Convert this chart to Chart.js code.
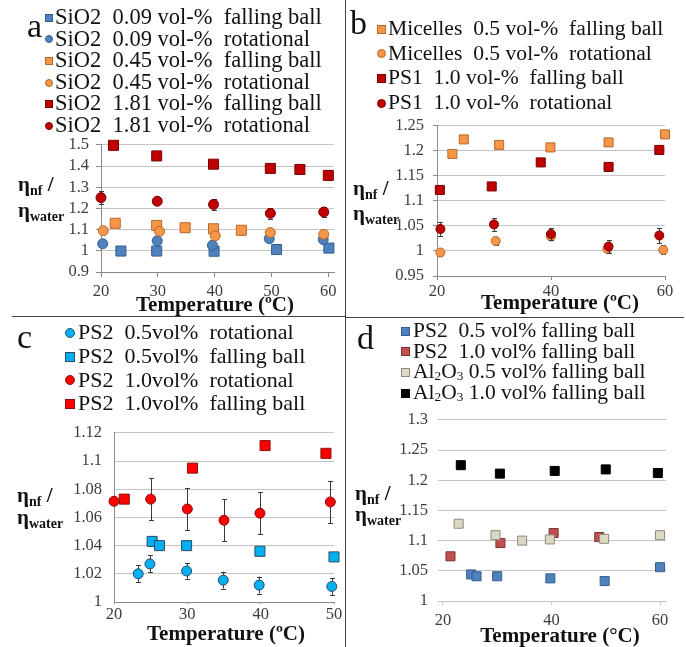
<!DOCTYPE html>
<html>
<head>
<meta charset="utf-8">
<script src="https://cdn.jsdelivr.net/npm/chart.js@4.4.1/dist/chart.umd.min.js"></script>
<style>
body { margin: 0; background: #fff; }
#fig { position: relative; width: 686px; height: 647px; overflow: hidden; background: #fff;
       font-family: "Liberation Serif", "Times New Roman", serif; color: #111; }
#fig canvas { position: absolute; }
.letter { position: absolute; font-size: 34px; line-height: 34px; }
.legend { position: absolute; white-space: pre; }
.legend .row { position: relative; }
.legend sub { font-size: 0.62em; vertical-align: -0.15em; }
.mk { position: absolute; box-sizing: border-box; border: 1px solid; }
.ylab { position: absolute; font-weight: bold; font-size: 21px; line-height: 21px; white-space: pre; }
.ylab sub { font-size: 14px; vertical-align: -4px; }
.xlab { position: absolute; font-weight: bold; font-size: 21px; line-height: 21px; width: 220px; text-align: center; white-space: pre; }
.rule { position: absolute; background: #444; }
</style>
</head>
<body>
<div id="fig"></div>
<script>
// ===== DATA =====
// panel a : SiO2
const aT_fb009  = [23.5, 29.8, 39.9, 50.9, 60.1];
const aV_fb009  = [0.999, 0.999, 0.998, 1.006, 1.013];
const aT_rot009 = [20.3, 29.9, 39.6, 49.6, 59.1];
const aV_rot009 = [1.033, 1.047, 1.026, 1.057, 1.053];
const aT_fb045  = [22.5, 29.8, 34.8, 39.8, 44.7];
const aV_fb045  = [1.130, 1.120, 1.109, 1.104, 1.097];
const aT_rot045 = [20.4, 30.3, 40.1, 49.8, 59.2];
const aV_rot045 = [1.095, 1.092, 1.071, 1.086, 1.078];
const aT_fb181  = [22.2, 29.8, 39.8, 49.8, 55.0, 60.0];
const aV_fb181  = [1.498, 1.448, 1.409, 1.389, 1.384, 1.356];
const aT_rot181 = [20.0, 29.9, 39.8, 49.8, 59.2];
const aV_rot181 = [1.251, 1.234, 1.219, 1.177, 1.183];
const aE_rot181 = [0.03, 0.02, 0.025, 0.025, 0.025];
const aXTicks = [20, 30, 40, 50, 60];
const aYTicks = [0.9, 1, 1.1, 1.2, 1.3, 1.4, 1.5];

// panel b : micelles / PS1
const bT_fbMic  = [22.7, 24.7, 30.9, 39.9, 50.1, 60.0];
const bV_fbMic  = [1.194, 1.223, 1.212, 1.207, 1.217, 1.233];
const bT_rotMic = [20.6, 30.3, 40.0, 49.9, 59.7];
const bV_rotMic = [0.997, 1.020, 1.029, 1.004, 1.002];
const bE_rotMic = [0.007, 0.008, 0.006, 0.007, 0.009];
const bT_fbPs1  = [20.5, 29.6, 38.2, 50.1, 59.0];
const bV_fbPs1  = [1.122, 1.129, 1.177, 1.168, 1.202];
const bT_rotPs1 = [20.6, 30.0, 40.0, 50.1, 59.0];
const bV_rotPs1 = [1.044, 1.053, 1.034, 1.009, 1.031];
const bE_rotPs1 = [0.014, 0.013, 0.012, 0.013, 0.015];
const bXTicks = [20, 40, 60];
const bYTicks = [0.95, 1, 1.05, 1.1, 1.15, 1.2, 1.25];

// panel c : PS2
const cT_rot05 = [23.3, 24.9, 29.9, 34.9, 39.8, 49.7];
const cV_rot05 = [1.020, 1.027, 1.022, 1.0155, 1.012, 1.011];
const cE_rot05 = [0.006, 0.006, 0.0055, 0.006, 0.006, 0.006];
const cT_fb05  = [25.2, 26.2, 29.9, 39.9, 50.0];
const cV_fb05  = [1.043, 1.040, 1.040, 1.036, 1.032];
const cT_rot10 = [20.0, 25.0, 30.0, 35.0, 39.9, 49.5];
const cV_rot10 = [1.0715, 1.073, 1.066, 1.058, 1.063, 1.071];
const cE_rot10 = [0, 0.015, 0.015, 0.015, 0.015, 0.015];
const cT_fb10  = [21.4, 30.7, 40.6, 48.9];
const cV_fb10  = [1.073, 1.095, 1.111, 1.1055];
const cXTicks = [20, 30, 40, 50];
const cYTicks = [1, 1.02, 1.04, 1.06, 1.08, 1.1, 1.12];

// panel d : PS2 / Al2O3 falling ball
const dT_ps05 = [25.2, 26.2, 30.0, 39.8, 49.8, 60.0];
const dV_ps05 = [1.044, 1.041, 1.041, 1.0375, 1.033, 1.056];
const dT_ps10 = [21.4, 30.6, 40.4, 48.8];
const dV_ps10 = [1.074, 1.096, 1.1125, 1.106];
const dT_al05 = [22.9, 29.7, 34.6, 39.7, 49.7, 60.0];
const dV_al05 = [1.128, 1.109, 1.100, 1.102, 1.103, 1.109];
const dT_al10 = [23.3, 30.5, 40.6, 50.0, 59.6];
const dV_al10 = [1.225, 1.211, 1.2155, 1.218, 1.212];
const dXTicks = [20, 40, 60];
const dYTicks = [1, 1.05, 1.1, 1.15, 1.2, 1.25, 1.3];

// ===== HELPERS =====
const fig = document.getElementById('fig');
const pts = (xs, ys) => xs.map((x, i) => ({ x: x, y: ys[i] }));

function series(label, xs, ys, shape, fill, edge, size, errs) {
  const r = shape === 'rect' ? size * 0.71 : size / 2;
  return {
    label: label, data: pts(xs, ys), errors: errs || null, clip: false,
    pointStyle: shape, backgroundColor: fill, borderColor: edge, borderWidth: 1,
    pointRadius: r, pointHoverRadius: r
  };
}

// error bars drawn behind each dataset's markers
const errorBars = {
  id: 'errorBars',
  beforeDatasetDraw(chart, args) {
    const ds = chart.data.datasets[args.index];
    if (!ds.errors) return;
    const xs = chart.scales.x, ys = chart.scales.y, ctx = chart.ctx;
    ctx.save();
    ctx.strokeStyle = '#3a3a3a';
    ctx.lineWidth = 1;
    ds.data.forEach((p, i) => {
      const e = ds.errors[i];
      if (!e) return;
      const px = Math.round(xs.getPixelForValue(p.x)) + 0.5;
      const y1 = ys.getPixelForValue(p.y + e), y2 = ys.getPixelForValue(p.y - e);
      ctx.beginPath();
      ctx.moveTo(px, y1); ctx.lineTo(px, y2);
      ctx.moveTo(px - 2.5, Math.round(y1) + 0.5); ctx.lineTo(px + 2.5, Math.round(y1) + 0.5);
      ctx.moveTo(px - 2.5, Math.round(y2) + 0.5); ctx.lineTo(px + 2.5, Math.round(y2) + 0.5);
      ctx.stroke();
    });
    ctx.restore();
  }
};

function fmt(v) { return String(+v.toFixed(3)); }

function makePanel(p) {
  const yW = 60, padTop = 12, padRight = 16, xH = 34;
  const cv = document.createElement('canvas');
  const w = yW + (p.right - p.left) + padRight, h = padTop + (p.bottom - p.top) + xH;
  cv.width = w; cv.height = h;
  cv.style.width = w + 'px'; cv.style.height = h + 'px';
  cv.style.left = (p.left - yW) + 'px'; cv.style.top = (p.top - padTop) + 'px';
  fig.appendChild(cv);
  const n = p.datasets.length;
  p.datasets.forEach((d, i) => { d.order = n - i; });
  const tickFont = { family: 'Liberation Serif', size: 16.5 };
  new Chart(cv, {
    type: 'scatter',
    data: { datasets: p.datasets },
    plugins: [errorBars],
    options: {
      responsive: false, animation: false, events: [],
      layout: { padding: { top: padTop, right: padRight, left: 0, bottom: 0 } },
      plugins: { legend: { display: false }, tooltip: { enabled: false } },
      scales: {
        x: {
          type: 'linear', min: p.xMin, max: p.xMax,
          afterFit: s => { s.height = xH; },
          afterBuildTicks: s => { s.ticks = p.xTicks.map(v => ({ value: v })); },
          grid: { display: true, drawOnChartArea: false, drawTicks: true, tickLength: p.xTickLen, color: p.axisColor },
          border: { display: true, color: p.axisColor },
          ticks: { color: '#3c3c3c', font: tickFont, padding: p.xPad, maxRotation: 0, autoSkip: false, callback: fmt }
        },
        y: {
          type: 'linear', min: p.yMin, max: p.yMax,
          afterFit: s => { s.width = yW; },
          afterBuildTicks: s => { s.ticks = p.yTicks.map(v => ({ value: v })); },
          grid: { color: '#c4c4c4', drawTicks: p.yTickLen > 0, tickLength: p.yTickLen, tickColor: p.axisColor },
          border: { display: p.yBorder, color: p.axisColor },
          ticks: { color: '#3c3c3c', font: tickFont, padding: p.yPad, autoSkip: false, callback: fmt }
        }
      }
    }
  });
}

function addText(cls, html, left, top, extra) {
  const d = document.createElement('div');
  d.className = cls; d.innerHTML = html;
  d.style.left = left + 'px'; d.style.top = top + 'px';
  if (extra) Object.assign(d.style, extra);
  fig.appendChild(d);
  return d;
}

function addLegend(datasets, left, top, lineH, fontSize, mkSize, gap) {
  const box = addText('legend', '', left, top, { fontSize: fontSize + 'px', lineHeight: lineH + 'px' });
  datasets.forEach(ds => {
    const row = document.createElement('div');
    row.className = 'row';
    row.style.height = lineH + 'px';
    row.innerHTML = ds.label.replace('Al2O3', 'Al<sub>2</sub>O<sub>3</sub>');
    const mk = document.createElement('span');
    mk.className = 'mk';
    Object.assign(mk.style, {
      width: mkSize + 'px', height: mkSize + 'px',
      left: -(gap + mkSize) + 'px', top: (lineH / 2 - mkSize / 2 + 1) + 'px',
      background: ds.backgroundColor, borderColor: ds.borderColor,
      borderRadius: ds.pointStyle === 'circle' ? '50%' : '0'
    });
    row.appendChild(mk);
    box.appendChild(row);
  });
}

function addYLabel(left, base1, base2) {
  addText('ylab', '&#951;<sub>nf</sub> /', left, base1 - 17.6);
  addText('ylab', '&#951;<sub>water</sub>', left, base2 - 17.6);
}

// ===== COLOURS =====
const blue = '#4f81bd', blueEdge = '#355e8f';
const orange = '#f79646', orangeEdge = '#b3692e';
const dred = '#c00000', dredEdge = '#7a0000';
const cyan = '#00b0f0', cyanEdge = '#2d4a6a';
const red = '#ff0000', redEdge = '#8a1010';
const rose = '#c0504d', roseEdge = '#7d3331';
const tan = '#ddd9c3', tanEdge = '#8a8a80';

// ===== PANEL A =====
const aSets = [
  series('SiO2  0.09 vol-%  falling ball', aT_fb009, aV_fb009, 'rect', blue, blueEdge, 10),
  series('SiO2  0.09 vol-%  rotational', aT_rot009, aV_rot009, 'circle', blue, blueEdge, 10),
  series('SiO2  0.45 vol-%  falling ball', aT_fb045, aV_fb045, 'rect', orange, orangeEdge, 10),
  series('SiO2  0.45 vol-%  rotational', aT_rot045, aV_rot045, 'circle', orange, orangeEdge, 10),
  series('SiO2  1.81 vol-%  falling ball', aT_fb181, aV_fb181, 'rect', dred, dredEdge, 10),
  series('SiO2  1.81 vol-%  rotational', aT_rot181, aV_rot181, 'circle', dred, dredEdge, 10, aE_rot181)
];
makePanel({ datasets: aSets, left: 101, right: 334, top: 140, bottom: 272,
  xMin: 20, xMax: 61, yMin: 0.9, yMax: 1.5, xTicks: aXTicks, yTicks: aYTicks,
  axisColor: '#8a8a8a', yBorder: true, xTickLen: 5, xPad: 5, yTickLen: 5, yPad: 7 });
addLegend(aSets, 55, 6, 21.6, 22.5, 8, 2);

// ===== PANEL B =====
const bSets = [
  series('Micelles  0.5 vol-%  falling ball', bT_fbMic, bV_fbMic, 'rect', orange, orangeEdge, 9),
  series('Micelles  0.5 vol-%  rotational', bT_rotMic, bV_rotMic, 'circle', orange, orangeEdge, 9, bE_rotMic),
  series('PS1  1.0 vol-%  falling ball', bT_fbPs1, bV_fbPs1, 'rect', dred, dredEdge, 9),
  series('PS1  1.0 vol-%  rotational', bT_rotPs1, bV_rotPs1, 'circle', dred, dredEdge, 9, bE_rotPs1)
];
makePanel({ datasets: bSets, left: 437, right: 665, top: 119, bottom: 276,
  xMin: 20, xMax: 60, yMin: 0.95, yMax: 1.25, xTicks: bXTicks, yTicks: bYTicks,
  axisColor: '#8a8a8a', yBorder: true, xTickLen: 4, xPad: 2, yTickLen: 4, yPad: 9 });
addLegend(bSets, 388, 16, 24.6, 21.6, 9, 2);

// ===== PANEL C =====
const cSets = [
  series('PS2  0.5vol%  rotational', cT_rot05, cV_rot05, 'circle', cyan, cyanEdge, 10, cE_rot05),
  series('PS2  0.5vol%  falling ball', cT_fb05, cV_fb05, 'rect', cyan, cyanEdge, 10),
  series('PS2  1.0vol%  rotational', cT_rot10, cV_rot10, 'circle', red, redEdge, 10, cE_rot10),
  series('PS2  1.0vol%  falling ball', cT_fb10, cV_fb10, 'rect', red, redEdge, 10)
];
makePanel({ datasets: cSets, left: 114, right: 334, top: 423, bottom: 602,
  xMin: 20, xMax: 50, yMin: 1, yMax: 1.12, xTicks: cXTicks, yTicks: cYTicks,
  axisColor: '#8a8a8a', yBorder: true, xTickLen: 2, xPad: 1, yTickLen: 0, yPad: 12 });
addLegend(cSets, 78, 320, 23.8, 22, 10, 3);

// ===== PANEL D =====
const dSets = [
  series('PS2  0.5 vol% falling ball', dT_ps05, dV_ps05, 'rect', blue, blueEdge, 9),
  series('PS2  1.0 vol% falling ball', dT_ps10, dV_ps10, 'rect', rose, roseEdge, 9),
  series('Al2O3 0.5 vol% falling ball', dT_al05, dV_al05, 'rect', tan, tanEdge, 9),
  series('Al2O3 1.0 vol% falling ball', dT_al10, dV_al10, 'rect', '#000000', '#000000', 9)
];
makePanel({ datasets: dSets, left: 438, right: 666, top: 412, bottom: 601,
  xMin: 19.1, xMax: 61.1, yMin: 1, yMax: 1.3, xTicks: dXTicks, yTicks: dYTicks,
  axisColor: '#c4c4c4', yBorder: false, xTickLen: 4, xPad: 6, yTickLen: 0, yPad: 10 });
addLegend(dSets, 413, 320, 20.6, 21.5, 9, 3);

// ===== TEXT: letters, axis titles =====
addText('letter', 'a', 27, 9);
addText('letter', 'b', 350, 6);
addText('letter', 'c', 17, 320);
addText('letter', 'd', 357, 321);

addYLabel(18, 192, 218);
addYLabel(353, 196, 221);
addYLabel(17, 503, 525);
addYLabel(355, 501, 522);

addText('xlab', 'Temperature (&ordm;C)', 215 - 110, 294);
addText('xlab', 'Temperature (&ordm;C)', 560 - 110, 292);
addText('xlab', 'Temperature (&ordm;C)', 226 - 110, 623);
addText('xlab', 'Temperature (&deg;C)', 560 - 110, 625);

// ===== PANEL RULES =====
[[345, 0, 1, 647], [12, 316, 333, 1], [345, 317, 339, 1]].forEach(r => {
  addText('rule', '', r[0], r[1], { width: r[2] + 'px', height: r[3] + 'px' });
});
</script>
</body>
</html>
